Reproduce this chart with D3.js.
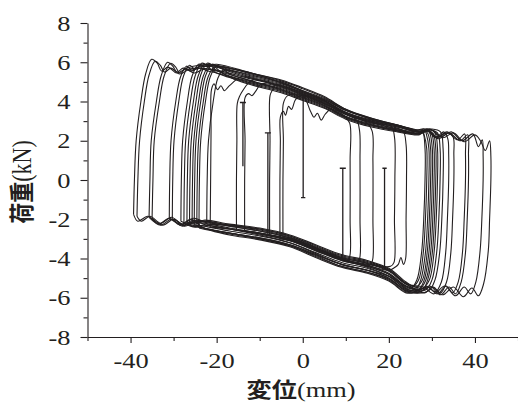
<!DOCTYPE html>
<html>
<head>
<meta charset="utf-8">
<script src="https://cdn.jsdelivr.net/npm/d3@7"></script>
<style>
  body { margin: 0; background: #fff; }
</style>
</head>
<body>
<div id="chart"></div>
<script>
// hysteresis loops, [displacement mm, load kN]
var loop1 = [[-39.3,-1.75],[-39.1,0],[-38.7,2],[-37.6,4],[-36.5,5.4],[-35.1,6.15],[-33.8,5.95],[-32.8,5.55],[-31.3,5.75],[-29.3,5.45],[-27,5.7],[-24,5.85],
  [-20,5.8],[-12,5.3],[-5,4.9],[0,4.5],[5,4.05],[10,3.45],[16,3.0],[22,2.7],[27,2.45],
  [30,2.55],[32.5,2.15],[35,2.4],[37.5,1.95],[40,2.3],[41.4,1.95],[42.4,1.5],[43.4,2.0],[43.7,1.2],
  [43.7,0],[43.4,-2],[43.1,-3.6],[42.0,-5.3],[40.8,-5.9],[39.3,-5.5],[37.3,-5.95],[35,-5.45],[32.5,-5.85],[30,-5.45],[27,-5.7],
  [24,-5.65],[20,-5.0],[15,-4.6],[9,-4.3],[3,-3.8],[-3,-3.3],[-10,-2.95],[-17,-2.7],[-23,-2.45],
  [-26,-2.0],[-28.5,-2.3],[-31,-1.95],[-33.5,-2.25],[-36,-1.85],[-38.3,-2.1],[-39.3,-1.75]];
var loop2 = [[-38.5,-1.85],[-38.3,0],[-37.9,2],[-36.8,4],[-35.7,5.35],[-34.3,6.05],[-33.1,5.85],[-32.1,5.5],[-30.6,5.7],[-28.6,5.4],[-26.3,5.65],[-23.5,5.7],
  [-20,5.55],[-12,5.05],[-5,4.65],[0,4.25],[5,3.85],[10,3.25],[16,2.85],[22,2.55],[27,2.35],
  [29.5,2.6],[32,2.2],[34.5,2.45],[37,2.0],[39.5,2.35],[40.8,1.7],[41.7,2.05],[41.9,1.2],
  [41.9,0],[41.6,-2],[41.2,-3.6],[40.2,-5.2],[39.0,-5.8],[37.5,-5.45],[35.5,-5.9],[33,-5.4],[30.5,-5.8],[28,-5.45],
  [24,-5.3],[20,-4.65],[15,-4.25],[9,-3.95],[3,-3.45],[-3,-2.95],[-10,-2.6],[-17,-2.35],[-23,-2.1],
  [-25.5,-1.95],[-28,-2.25],[-30.5,-1.9],[-33,-2.2],[-35.5,-1.85],[-37.5,-2.1],[-38.5,-1.85]];
var loop3 = [[-35.7,-1.9],[-35.5,0],[-35.2,2],[-34.0,4],[-32.9,5.3],[-31.4,6.0],[-30.2,5.8],[-29.2,5.5],[-27.8,5.7],[-25.8,5.55],[-23.5,5.85],
  [-20,5.85],[-12,5.4],[-5,5.0],[0,4.55],[5,4.05],[10,3.35],[16,2.9],[22,2.6],[27,2.35],
  [29.5,2.5],[31.5,2.1],[34,2.4],[36.5,2.0],[38.3,2.3],[38.5,1.3],
  [38.5,0],[38.2,-2],[37.8,-3.7],[36.8,-5.2],[35.5,-5.8],[34,-5.45],[32,-5.85],[29.5,-5.4],[27,-5.6],
  [24,-5.4],[20,-4.9],[15,-4.6],[9,-4.3],[3,-3.75],[-3,-3.2],[-10,-2.8],[-17,-2.5],[-23,-2.25],
  [-25.5,-2.05],[-28,-2.35],[-30.5,-2.0],[-33,-2.3],[-35.7,-1.9]];
var loop4 = [[-35.0,-1.95],[-34.8,0],[-34.5,2],[-33.3,4],[-32.2,5.3],[-30.7,5.95],[-29.5,5.75],[-28.6,5.45],[-27.2,5.65],[-25.2,5.45],[-23,5.65],
  [-20,5.6],[-12,5.15],[-5,4.8],[0,4.45],[5,4.1],[10,3.55],[16,3.15],[22,2.8],[27,2.55],
  [29,2.6],[31,2.15],[33.5,2.45],[36,2.05],[37.6,2.35],[37.8,1.3],
  [37.8,0],[37.5,-2],[37.1,-3.7],[36.1,-5.2],[34.8,-5.75],[33.3,-5.4],[31.3,-5.8],[29,-5.45],[26.5,-5.65],
  [24,-5.55],[20,-4.9],[15,-4.45],[9,-4.05],[3,-3.45],[-3,-2.9],[-10,-2.55],[-17,-2.3],[-23,-2.1],
  [-25,-2.05],[-27.5,-2.3],[-30,-2.0],[-32.5,-2.3],[-35.0,-1.95]];
var loop5 = [[-31.0,-2.0],[-30.9,0],[-30.6,2],[-29.5,4],[-28.4,5.25],[-27.0,5.8],[-25.8,5.6],[-24.5,5.75],[-22.5,5.8],
  [-20,5.9],[-12,5.45],[-5,5.05],[0,4.65],[5,4.2],[10,3.6],[16,3.15],[22,2.8],[27,2.5],
  [29,2.5],[31,2.15],[33.5,2.4],[34.9,2.2],[35.1,1.3],
  [35.1,0],[34.8,-2],[34.4,-3.7],[33.4,-5.2],[32.0,-5.75],[30.3,-5.45],[28.3,-5.75],[26,-5.6],
  [24,-5.65],[20,-5.05],[15,-4.7],[9,-4.4],[3,-3.85],[-3,-3.35],[-10,-3.0],[-17,-2.7],[-23,-2.45],
  [-25,-2.15],[-27.5,-2.35],[-29.5,-2.05],[-31.0,-2.0]];
var loop6 = [[-30.3,-2.05],[-30.2,0],[-29.9,2],[-28.8,4],[-27.7,5.3],[-26.3,5.85],[-25.1,5.65],[-23.8,5.7],[-22,5.55],
  [-20,5.45],[-12,4.95],[-5,4.55],[0,4.15],[5,3.75],[10,3.2],[16,2.8],[22,2.5],[27,2.35],
  [29,2.55],[31,2.2],[32.8,2.45],[33.7,2.1],[33.9,1.3],
  [33.9,0],[33.6,-2],[33.2,-3.7],[32.2,-5.2],[30.8,-5.7],[29,-5.45],[27,-5.6],
  [24,-5.3],[20,-4.6],[15,-4.25],[9,-3.95],[3,-3.45],[-3,-2.95],[-10,-2.6],[-17,-2.35],[-23,-2.15],
  [-25,-2.1],[-27.5,-2.3],[-30.3,-2.05]];
var loop7 = [[-28.3,-2.1],[-28.2,0],[-27.9,2],[-26.8,4],[-25.7,5.3],[-24.2,5.9],[-22.8,5.8],
  [-20,5.75],[-12,5.25],[-5,4.85],[0,4.45],[5,4.05],[10,3.45],[16,3.05],[22,2.75],[27,2.5],
  [30,2.6],[32.0,2.45],[32.6,1.6],
  [32.6,0],[32.3,-2],[31.8,-3.7],[30.7,-5.1],[29.2,-5.65],
  [24,-5.7],[20,-5.1],[15,-4.7],[9,-4.4],[3,-3.9],[-3,-3.35],[-10,-3.0],[-17,-2.75],[-23,-2.45],
  [-25.5,-2.35],[-28.3,-2.1]];
var loop8 = [[-27.6,-2.2],[-27.5,0],[-27.2,2],[-26.1,4],[-25.0,5.3],[-23.5,5.95],[-22.1,5.85],
  [-20,5.8],[-12,5.45],[-5,4.95],[0,4.5],[5,4.1],[10,3.55],[16,3.1],[22,2.75],[27,2.45],
  [29.5,2.55],[31.3,2.4],[31.9,1.6],
  [31.9,0],[31.6,-2],[31.1,-3.7],[30.0,-5.1],[28.5,-5.6],
  [24,-5.45],[20,-4.8],[15,-4.4],[9,-4.1],[3,-3.6],[-3,-3.1],[-10,-2.75],[-17,-2.5],[-23,-2.3],
  [-25,-2.4],[-27.6,-2.2]];
var loop9 = [[-26.9,-2.15],[-26.8,0],[-26.5,2],[-25.4,4],[-24.3,5.3],[-22.8,5.9],[-21.4,5.65],
  [-20,5.45],[-12,4.9],[-5,4.5],[0,4.1],[5,3.7],[10,3.15],[16,2.75],[22,2.5],[27,2.35],
  [29,2.6],[30.7,2.4],[31.3,1.6],
  [31.3,0],[31.0,-2],[30.5,-3.7],[29.4,-5.1],[27.9,-5.5],
  [24,-5.25],[20,-4.55],[15,-4.15],[9,-3.85],[3,-3.35],[-3,-2.85],[-10,-2.5],[-17,-2.3],[-23,-2.1],
  [-24.8,-2.25],[-26.9,-2.15]];
var loop10 = [[-26.3,-2.25],[-26.2,0],[-25.9,2],[-24.8,4],[-23.7,5.35],[-22.2,5.95],[-20.8,5.85],
  [-18,5.75],[-12,5.45],[-5,5.1],[0,4.7],[5,4.25],[10,3.6],[16,3.1],[22,2.75],[27,2.45],
  [29,2.5],[30.3,2.35],[30.9,1.6],
  [30.9,0],[30.6,-2],[30.1,-3.7],[29.0,-5.1],[27.5,-5.7],
  [24,-5.6],[20,-5.0],[15,-4.6],[9,-4.3],[3,-3.8],[-3,-3.3],[-10,-2.95],[-17,-2.7],[-23,-2.45],
  [-26.3,-2.25]];
var loop11 = [[-25.7,-2.2],[-25.6,0],[-25.3,2],[-24.2,4],[-23.1,5.3],[-21.6,5.85],[-20.2,5.6],
  [-17,5.3],[-12,5.0],[-5,4.6],[0,4.2],[5,3.8],[10,3.2],[16,2.8],[22,2.55],[27,2.4],
  [29,2.55],[29.9,2.4],[30.5,1.6],
  [30.5,0],[30.2,-2],[29.7,-3.7],[28.6,-5.1],[27.1,-5.55],
  [24,-5.4],[20,-4.75],[15,-4.35],[9,-4.05],[3,-3.55],[-3,-3.05],[-10,-2.7],[-17,-2.45],[-23,-2.2],
  [-25.7,-2.2]];
var loop12 = [[-25.2,-2.3],[-25.1,0],[-24.8,2],[-23.7,4],[-22.6,5.3],[-21.0,5.9],[-19.6,5.75],
  [-16,5.45],[-12,5.2],[-5,4.8],[0,4.4],[5,4.0],[10,3.4],[16,3.0],[22,2.7],[27,2.45],
  [28.8,2.55],[29.5,2.4],[30.1,1.6],
  [30.1,0],[29.8,-2],[29.3,-3.7],[28.2,-5.1],[26.7,-5.65],
  [24,-5.55],[20,-4.9],[15,-4.5],[9,-4.2],[3,-3.7],[-3,-3.2],[-10,-2.85],[-17,-2.6],[-23,-2.35],
  [-25.2,-2.3]];
var loop13 = [[-24.6,-2.2],[-24.5,0],[-24.2,2],[-23.1,4],[-22.0,5.25],[-20.5,5.75],[-19.1,5.5],
  [-16,5.15],[-12,4.85],[-5,4.45],[0,4.05],[5,3.65],[10,3.1],[16,2.7],[22,2.45],[27,2.3],
  [28.5,2.5],[29.1,2.35],[29.7,1.6],
  [29.7,0],[29.4,-2],[28.9,-3.7],[27.8,-5.1],[26.3,-5.45],
  [24,-5.2],[20,-4.5],[15,-4.1],[9,-3.8],[3,-3.3],[-3,-2.8],[-10,-2.45],[-17,-2.25],[-23,-2.05],
  [-24.6,-2.2]];
var loop14 = [[-24.1,-2.45],[-24.0,0],[-23.7,2],[-22.6,4],[-21.5,5.25],[-20.0,5.8],[-18.6,5.65],
  [-15,5.5],[-12,5.35],[-5,4.95],[0,4.55],[5,4.15],[10,3.55],[16,3.1],[22,2.8],[26.5,2.55],
  [28.2,2.6],[28.7,2.35],[29.3,1.6],
  [29.3,0],[29.0,-2],[28.5,-3.7],[27.4,-5.1],[25.9,-5.7],
  [24,-5.75],[20,-5.15],[15,-4.75],[9,-4.45],[3,-3.95],[-3,-3.4],[-10,-3.05],[-17,-2.8],[-22,-2.55],
  [-24.1,-2.45]];
var loop15 = [[-22.3,-2.25],[-22.2,0],[-21.9,2],[-20.8,4],[-19.7,5.2],[-18.4,5.6],[-17,5.4],
  [-12,5.05],[-5,4.6],[0,4.2],[5,3.8],[10,3.2],[16,2.8],[22,2.5],[26.5,2.35],
  [27.8,2.5],[28.2,2.3],[28.8,1.6],
  [28.8,0],[28.5,-2],[28.0,-3.7],[26.9,-5.1],[25.4,-5.45],
  [24,-5.3],[20,-4.6],[15,-4.2],[9,-3.9],[3,-3.4],[-3,-2.85],[-10,-2.5],[-17,-2.3],[-22.3,-2.25]];
// smaller cycles inside the band
var loop16 = [[-21.5,-2.4],[-21.4,0],[-21.3,2.5],[-21.2,4.6],[-20.6,4.9],[-19.8,4.6],[-19,4.8],[-18.2,4.55],[-17.3,4.75],[-16.3,4.95],[-14.5,5.25],
  [-12,5.2],[-5,4.75],[0,4.35],[5,3.9],[10,3.35],[16,2.95],[22,2.6],[26.5,2.45],
  [27.8,2.45],[28.4,1.6],[28.4,0],[28.1,-2],[27.6,-3.7],[26.5,-5.1],[25.0,-5.55],
  [24,-5.5],[20,-4.8],[15,-4.4],[9,-4.1],[3,-3.6],[-3,-3.1],[-10,-2.75],[-17,-2.5],[-21.5,-2.4]];
var loop17 = [[-15.4,-2.55],[-15.4,0],[-15.3,2],[-15.2,3.9],[-14.6,4.3],[-13.8,4.6],[-12.8,4.9],[-11.5,5.1],
  [-5,4.75],[0,4.35],[5,3.95],[10,3.35],[16,2.95],[21,2.7],[23.3,2.5],
  [24,1.8],[24.1,0],[24.0,-2],[23.9,-4.0],[23.4,-4.3],[22.8,-3.95],[22.2,-4.3],[21.4,-4.45],
  [20,-4.6],[15,-4.35],[9,-4.05],[3,-3.55],[-3,-3.05],[-10,-2.7],[-15.4,-2.55]];
var loop18 = [[-13.5,-2.6],[-13.5,0],[-13.4,2],[-13.4,4.2],[-12.6,4.4],[-11.8,4.3],[-11,4.5],[-9.5,4.9],
  [-5,4.7],[0,4.3],[5,3.9],[10,3.35],[16,2.9],[20.5,2.75],
  [21.3,2.2],[21.4,0],[21.3,-2],[21.2,-4.2],[20.4,-4.4],
  [15,-4.3],[9,-4.0],[3,-3.5],[-3,-3.0],[-10,-2.7],[-13.5,-2.6]];
var loop19 = [[-7.7,-2.85],[-7.7,0],[-7.6,2],[-7.6,4.3],[-7.0,4.6],[-6.3,4.85],
  [-5,4.8],[0,4.4],[5,4.0],[10,3.4],[14.5,3.0],
  [16.1,2.5],[16.3,1],[16.3,-2],[16.2,-4.1],[15.5,-4.35],
  [9,-4.0],[3,-3.5],[-3,-3.0],[-7.7,-2.85]];
var loop20 = [[-5.3,-3.0],[-5.3,0],[-5.2,2],[-5.2,3.2],[-4.5,3.5],[-4.0,3.3],[-3.3,3.75],[-2.6,3.6],[-1.8,4.05],[-1.0,4.25],
  [0,4.3],[5,3.9],[10,3.35],[12.5,3.05],
  [13.2,2.5],[13.3,1],[13.3,-2],[13.2,-4.0],[12.5,-4.2],
  [9,-4.0],[3,-3.5],[-3,-3.05],[-5.3,-3.0]];
var loop21 = [[-4.6,-3.0],[-4.6,0],[-4.5,2],[-4.5,3.9],[-3.5,4.3],[0,4.3],[1.8,3.5],[2.6,3.2],[3.4,3.4],[4.3,3.05],[5.2,3.35],[6.5,3.6],[9.5,3.3],
  [10.9,2.9],[11.0,1],[11.0,-2],[10.9,-3.9],[10.2,-4.1],
  [9,-4.05],[3,-3.55],[-3,-3.05],[-4.6,-3.0]];

// short vertical jumps in the record
var spike1 = [[-14.6,3.95],[-13.2,3.95],[-13.9,3.95],[-13.9,0.7]];
var spike2 = [[-8.8,2.4],[-7.4,2.4],[-8.1,2.4],[-8.1,-2.8]];
var spike3 = [[0.1,4.2],[0.1,-0.9],[-0.4,-0.9],[0.6,-0.9]];
var spike4 = [[8.6,0.6],[10.0,0.6],[9.3,0.6],[9.3,-4.05]];
var spike5 = [[18.5,0.6],[19.5,0.6],[19.0,0.6],[19.0,-4.5]];

var loops = [loop1, loop2, loop3, loop4, loop5, loop6, loop7, loop8, loop9, loop10, loop11,
  loop12, loop13, loop14, loop15, loop16, loop17, loop18, loop19, loop20, loop21];
var spikes = [spike1, spike2, spike3, spike4, spike5];

var xTicks = [-50, -40, -30, -20, -10, 0, 10, 20, 30, 40, 50];
var xLabels = [-40, -20, 0, 20, 40];
var yTicks = [-8, -7, -6, -5, -4, -3, -2, -1, 0, 1, 2, 3, 4, 5, 6, 7, 8];
var yLabels = [-8, -6, -4, -2, 0, 2, 4, 6, 8];

var width = 518, height = 407;
var ink = "#231f20";
var serif = "'Liberation Serif', 'Times New Roman', serif";
var cjk = "'Noto Sans CJK JP', sans-serif";

var svg = d3.select("#chart")
  .append("svg")
    .attr("width", width)
    .attr("height", height);

var x = d3.scaleLinear().domain([-50, 50]).range([87.5, 518]);
var y = d3.scaleLinear().domain([-8, 8]).range([337, 23]);

var line = d3.line()
  .x(function(d) { return x(d[0]); })
  .y(function(d) { return y(d[1]); })
  .curve(d3.curveCatmullRom.alpha(0.5));
var straight = d3.line()
  .x(function(d) { return x(d[0]); })
  .y(function(d) { return y(d[1]); });

svg.append("g")
  .selectAll("path")
  .data(loops)
  .enter()
  .append("path")
    .attr("d", line)
    .attr("fill", "none")
    .attr("stroke", ink)
    .attr("stroke-width", 1.1);

svg.append("g")
  .selectAll("path")
  .data(spikes)
  .enter()
  .append("path")
    .attr("d", straight)
    .attr("fill", "none")
    .attr("stroke", ink)
    .attr("stroke-width", 1.3);

// axes
var gx = svg.append("g")
  .attr("transform", "translate(0,337)")
  .call(d3.axisBottom(x).tickValues(xTicks).tickSize(6).tickSizeOuter(0).tickPadding(9)
    .tickFormat(function(d) { return xLabels.indexOf(d) >= 0 ? String(d) : ""; }));
gx.selectAll(".tick line").attr("y2", function(d) { return xLabels.indexOf(d) >= 0 ? 6 : 4; });

var gy = svg.append("g")
  .attr("transform", "translate(87.5,0)")
  .call(d3.axisLeft(y).tickValues(yTicks).tickSize(7).tickSizeOuter(0).tickPadding(10)
    .tickFormat(function(d) { return yLabels.indexOf(d) >= 0 ? String(d) : ""; }));
gy.selectAll(".tick line").attr("x2", function(d) { return yLabels.indexOf(d) >= 0 ? -7 : -4; });

[gx, gy].forEach(function(g) {
  g.select(".domain").attr("stroke", ink).attr("stroke-width", 1.1);
  g.selectAll(".tick line").attr("stroke", ink).attr("stroke-width", 1.1);
  g.selectAll(".tick text")
    .attr("fill", ink)
    .style("font-family", serif)
    .style("font-size", "22px");
});
// the original text is a little wide, so stretch it sideways
gx.selectAll(".tick text").attr("transform", "scale(1.2,1)");
gy.selectAll(".tick text").attr("x", 0).attr("transform", "translate(-17,0) scale(1.2,1)");

// axis titles
var xt = svg.append("text")
  .attr("text-anchor", "middle")
  .attr("transform", "translate(301,397) scale(1.2,1)")
  .attr("fill", ink);
xt.append("tspan").style("font-family", cjk).style("font-weight", "bold").style("font-size", "21px").text("変位");
xt.append("tspan").style("font-family", serif).style("font-size", "22px").text("(mm)");

var yt = svg.append("text")
  .attr("text-anchor", "middle")
  .attr("transform", "translate(31,182) scale(1.2,1) rotate(-90)")
  .attr("fill", ink);
yt.append("tspan").style("font-family", cjk).style("font-weight", "bold").style("font-size", "21px").text("荷重");
yt.append("tspan").style("font-family", serif).style("font-size", "22px").text("(kN)");
</script>
</body>
</html>
